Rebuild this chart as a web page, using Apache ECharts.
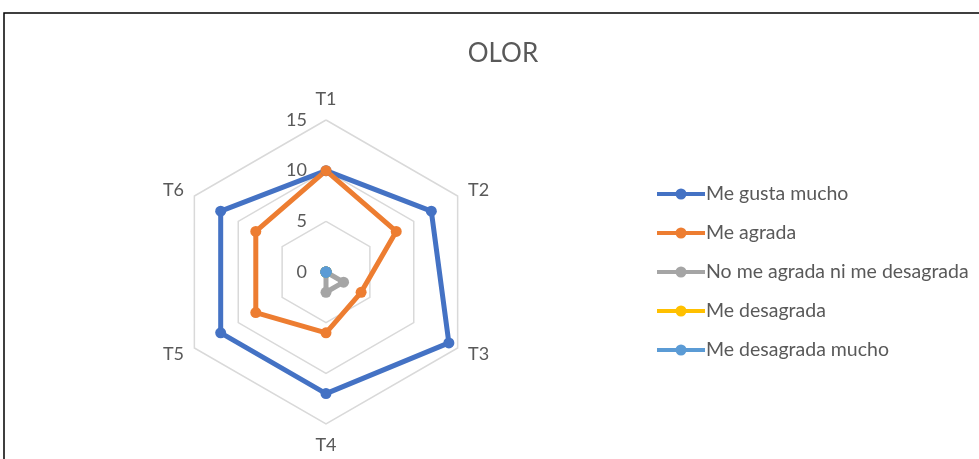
<!DOCTYPE html>
<html>
<head>
<meta charset="utf-8">
<script src="https://cdn.jsdelivr.net/npm/echarts@6/dist/echarts.min.js"></script>
<style>
html, body { margin: 0; padding: 0; background: #fff; }
#chart { width: 979px; height: 459px; }
</style>
</head>
<body>
<div id="chart"></div>
<script>
// data
var categories = ["T1", "T2", "T3", "T4", "T5", "T6"];
var seriesNames = ["Me gusta mucho", "Me agrada", "No me agrada ni me desagrada", "Me desagrada", "Me desagrada mucho"];
var gustaMucho = [10, 12, 14, 12, 12, 12];
var agrada = [10, 8, 4, 6, 8, 8];
var neutro = [0, 0, 2, 2, 0, 0];
var desagrada = [0, 0, 0, 0, 0, 0];
var desagradaMucho = [0, 0, 0, 0, 0, 0];
var colors = ["#4472C4", "#ED7D31", "#A5A5A5", "#FFC000", "#5B9BD5"];

var allValues = [gustaMucho, agrada, neutro, desagrada, desagradaMucho];
var txt = "#595959";
var fontFam = "Lato, 'Open Sans', sans-serif";

// echarts radar goes counter-clockwise, excel goes clockwise: T1, T6, T5 ... T2
var order = [0];
for (var k = categories.length - 1; k > 0; --k) order.push(k);

var indicator = [];
for (var i = 0; i < order.length; ++i) {
    var ind = { name: categories[order[i]], min: 0, max: 15 };
    if (i == 0) {
        ind.axisLabel = { show: true };
    }
    indicator.push(ind);
}

// legend icon: line with a dot in the middle
var lineDot = "path://M0,4 L48,4 L48,8 L0,8 Z M29.5,6 A5.5,5.5 0 1 1 18.5,6 A5.5,5.5 0 1 1 29.5,6 Z";

var series = [];
var legendData = [];
for (var s = 0; s < seriesNames.length; ++s) {
    var vals = [];
    for (var j = 0; j < order.length; ++j) vals.push(allValues[s][order[j]]);
    series.push({
        name: seriesNames[s],
        type: "radar",
        symbol: "circle",
        symbolSize: 11,
        lineStyle: { width: 5, color: colors[s] },
        itemStyle: { color: colors[s] },
        data: [{ value: vals, name: seriesNames[s] }]
    });
    legendData.push({ name: seriesNames[s], icon: lineDot });
}

var chart = echarts.init(document.getElementById("chart"));
chart.setOption({
    animation: false,
    color: colors,
    title: {
        text: "OLOR",
        left: 498,
        top: 36,
        textAlign: "center",
        textStyle: { color: txt, fontSize: 26, fontWeight: "normal", fontFamily: fontFam }
    },
    legend: {
        orient: "vertical",
        left: 652,
        top: 179,
        itemGap: 19,
        itemWidth: 48,
        itemHeight: 11,
        textStyle: { color: txt, fontSize: 19.5, lineHeight: 20, fontFamily: fontFam, padding: [0, 0, 0, -4] },
        data: legendData
    },
    radar: {
        center: [326, 272],
        radius: 152,
        startAngle: 90,
        splitNumber: 3,
        shape: "polygon",
        axisName: { color: txt, fontSize: 18, fontFamily: fontFam },
        nameGap: 12,
        axisLine: { show: false },
        axisTick: { show: false },
        axisLabel: { show: false, color: txt, fontSize: 18, fontFamily: fontFam, margin: 19 },
        splitLine: { lineStyle: { color: "#D9D9D9", width: 1.5 } },
        splitArea: { show: false },
        indicator: indicator
    },
    graphic: [{
        type: "rect",
        shape: { x: 4, y: 13, width: 1100, height: 600 },
        style: { fill: null, stroke: "#000", lineWidth: 1.5 },
        silent: true
    }],
    series: series
});
</script>
</body>
</html>
